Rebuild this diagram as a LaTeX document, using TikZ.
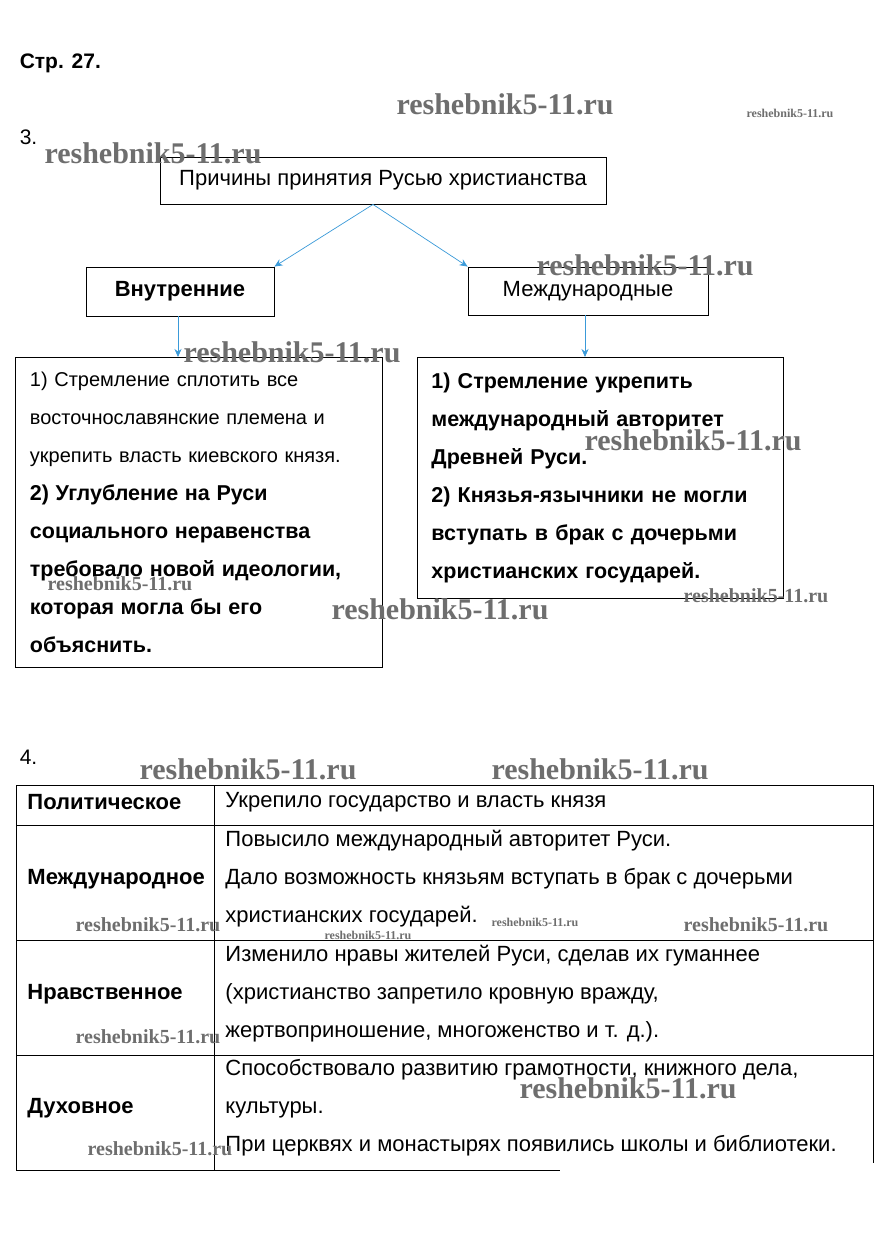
\documentclass[tikz,border=0pt]{standalone}
\usepackage{fontspec}
\setmainfont{Liberation Sans}
\newfontfamily\wmfont{Liberation Serif}
\usetikzlibrary{positioning,arrows.meta}
\definecolor{Csinij}{RGB}{58,154,217}
\definecolor{Cznak}{RGB}{110,110,110}
\tikzset{
  wm/.style={font=\wmfont\bfseries\fontsize{30}{30}\selectfont, text=Cznak, inner sep=0pt},
  wmmal/.style={wm, font=\wmfont\bfseries\fontsize{20}{20}\selectfont},
  wmkroh/.style={wm, font=\wmfont\bfseries\fontsize{12}{12}\selectfont},
  strelka/.style={-{Stealth[length=8pt,width=7pt]}, line width=0.7pt, Csinij}
}

\begin{document}
\begin{tikzpicture}[x=1pt, y=-1pt, line width=0.9pt]
  \useasboundingbox[fill=white] (0,0) rectangle (887,1256);

  \node[anchor=base west, font=\bfseries\fontsize{21}{21}\selectfont] (str) at (16,68) {Стр. 27.};
  \node[anchor=base west, font=\fontsize{21}{21}\selectfont] (n3) at (16,144) {3.};

  % zadanie 3
  \node[draw, minimum width=446pt, minimum height=47pt,
        font=\fontsize{22}{22}\selectfont]
    (prichiny) at (383,180.5) {Причины принятия Русью христианства};
  \node[draw, minimum width=188pt, minimum height=49pt,
        font=\bfseries\fontsize{22}{22}\selectfont]
    (vnutr) at (180,291.5) {Внутренние};
  \node[draw, minimum width=240pt, minimum height=48pt,
        font=\fontsize{22}{22}\selectfont]
    (mezhd) at (588,291) {Международные};
  \node[draw, anchor=north west, minimum height=310pt, text width=338pt,
        inner xsep=14.5pt, align=left,
        font=\fontsize{20}{38}\selectfont]
    (vnutrspisok) at (15,357)
    {1) Стремление сплотить все\\
     восточнославянские племена и\\
     укрепить власть киевского князя.\\
     {\bfseries\fontsize{21.5}{38}\selectfont 2) Углубление на Руси}\\
     {\bfseries\fontsize{21.5}{38}\selectfont социального неравенства}\\
     {\bfseries\fontsize{21.5}{38}\selectfont требовало новой идеологии,}\\
     {\bfseries\fontsize{21.5}{38}\selectfont которая могла бы его}\\
     {\bfseries\fontsize{21.5}{38}\selectfont объяснить.}};
  \node[draw, anchor=north west, minimum height=241pt, text width=338pt,
        inner xsep=14pt, align=left,
        font=\bfseries\fontsize{21.5}{38}\selectfont]
    (mezhdspisok) at (417,357)
    {1) Стремление укрепить\\
     международный авторитет\\
     Древней Руси.\\
     2) Князья-язычники не могли\\
     вступать в брак с дочерьми\\
     христианских государей.};

  \draw[strelka] ([xshift=-10pt]prichiny.south) -- (vnutr.north east);
  \draw[strelka] ([xshift=-10pt]prichiny.south) -- (mezhd.north west);
  \draw[strelka] ([xshift=-2pt]vnutr.south) -- ([xshift=-2pt]vnutr.south |- vnutrspisok.north);
  \draw[strelka] ([xshift=-3pt]mezhd.south) -- ([xshift=-3pt]mezhd.south |- mezhdspisok.north);

  % zadanie 4
  \node[anchor=base west, font=\fontsize{21}{21}\selectfont] (n4) at (16,764) {4.};
  \foreach \y in {785,825,940,1055}
    \draw (16,\y) -- (873,\y);
  \draw (16,1170) -- (560,1170);
  \draw (16,785) -- (16,1170);
  \draw (214,785) -- (214,1170);
  \draw (873,785) -- (873,1163);

  \tikzset{metka/.style={anchor=west, inner sep=0pt, font=\bfseries\fontsize{22}{22}\selectfont},
           yacheika/.style={anchor=west, inner sep=0pt, align=left, font=\fontsize{22}{38}\selectfont}}
  \node[metka] (polit) at (27,802) {Политическое};
  \node[metka] (mezhdun) at (27,879) {Международное};
  \node[metka] (nravst) at (27,994) {Нравственное};
  \node[metka] (duhovn) at (27,1108) {Духовное};
  \node[yacheika] (politt) at (225,802) {Укрепило государство и власть князя};
  \node[yacheika] (mezhdunt) at (225,879)
    {Повысило международный авторитет Руси.\\
     Дало возможность князьям вступать в брак с дочерьми\\
     христианских государей.};
  \node[yacheika] (nravstt) at (225,994)
    {Изменило нравы жителей Руси, сделав их гуманнее\\
     (христианство запретило кровную вражду,\\
     жертвоприношение, многоженство и т. д.).};
  \node[yacheika] (duhovnt) at (225,1108)
    {Способствовало развитию грамотности, книжного дела,\\
     культуры.\\
     При церквях и монастырях появились школы и библиотеки.};

  % vodyanye znaki
  \node[wm] (wm1) at (505,104) {reshebnik5-11.ru};
  \node[wmkroh] (wm2) at (790,113) {reshebnik5-11.ru};
  \node[wm] (wm3) at (153,153) {reshebnik5-11.ru};
  \node[wm] (wm4) at (645,265) {reshebnik5-11.ru};
  \node[wm] (wm5) at (292,352) {reshebnik5-11.ru};
  \node[wm] (wm6) at (693,440) {reshebnik5-11.ru};
  \node[wmmal] (wm7) at (120,584) {reshebnik5-11.ru};
  \node[wm] (wm8) at (440,609) {reshebnik5-11.ru};
  \node[wmmal] (wm9) at (756,596) {reshebnik5-11.ru};
  \node[wm] (wm10) at (248,769) {reshebnik5-11.ru};
  \node[wm] (wm11) at (600,769) {reshebnik5-11.ru};
  \node[wmmal] (wm12) at (148,925) {reshebnik5-11.ru};
  \node[wmkroh] (wm13) at (368,935) {reshebnik5-11.ru};
  \node[wmkroh] (wm14) at (535,922) {reshebnik5-11.ru};
  \node[wmmal] (wm15) at (756,925) {reshebnik5-11.ru};
  \node[wmmal] (wm16) at (148,1037) {reshebnik5-11.ru};
  \node[wm] (wm17) at (628,1088) {reshebnik5-11.ru};
  \node[wmmal] (wm18) at (160,1149) {reshebnik5-11.ru};
\end{tikzpicture}
\end{document}
